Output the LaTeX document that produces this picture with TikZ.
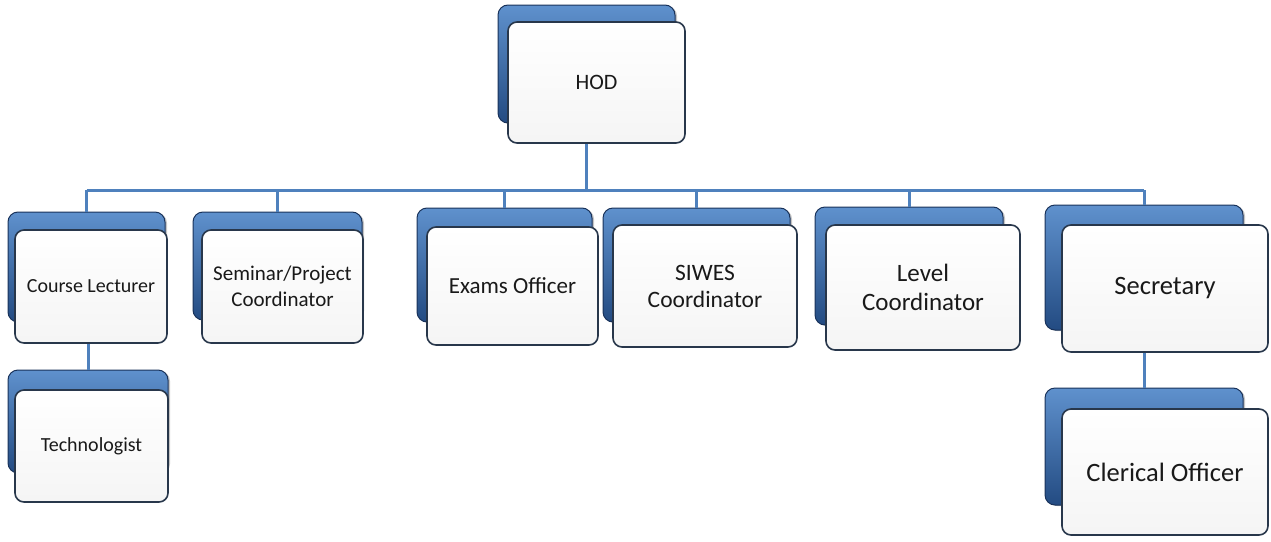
\documentclass[tikz,border=0pt]{standalone}
\usepackage{fontspec}
\setmainfont{Carlito}
\usetikzlibrary{shadows}
\definecolor{bluetop}{RGB}{95,145,205}
\definecolor{bluebot}{RGB}{35,75,130}
\definecolor{bluedark}{RGB}{25,50,90}
\definecolor{linec}{RGB}{79,129,189}
\definecolor{framec}{RGB}{40,55,75}
\tikzset{
  backbox/.style={rectangle, rounded corners=10pt, top color=bluetop, bottom color=bluebot,
    draw=bluedark, line width=1pt, inner sep=0pt,
    drop shadow={shadow xshift=2pt, shadow yshift=-1pt, fill=black!45}},
  frontbox/.style={rectangle, rounded corners=9pt, top color=white, bottom color=black!4,
    draw=framec, line width=1.6pt, inner sep=0pt, align=center, text=black!90},
  conn/.style={draw=linec, line width=3pt},
}
\begin{document}
\begin{tikzpicture}[x=1pt, y=-1pt]
\useasboundingbox (0,0) rectangle (1271,541);
\coordinate (bus) at (0,190);
% back boxes
\node[backbox, minimum width=177pt, minimum height=118pt] (hodb) at (586.5,64) {};
\node[backbox, minimum width=157pt, minimum height=110pt] (clb) at (86.5,267) {};
\node[backbox, minimum width=169pt, minimum height=108pt] (spb) at (277.5,266) {};
\node[backbox, minimum width=175pt, minimum height=114pt] (eob) at (504.5,265) {};
\node[backbox, minimum width=187pt, minimum height=114pt] (swb) at (696.5,265) {};
\node[backbox, minimum width=188pt, minimum height=118pt] (lcb) at (909,266) {};
\node[backbox, minimum width=198pt, minimum height=125pt] (secb) at (1144,267.5) {};
\node[backbox, minimum width=160pt, minimum height=103pt] (tecb) at (88,421.5) {};
\node[backbox, minimum width=198pt, minimum height=117pt] (clob) at (1144,446.5) {};
% front boxes
\node[frontbox, minimum width=177pt, minimum height=121pt, font=\fontsize{22}{26}\selectfont] (hod) at (596.5,82.5) {HOD};
\node[frontbox, minimum width=152pt, minimum height=113pt, font=\fontsize{20}{24}\selectfont] (cl) at (91,286.5) {Course Lecturer};
\node[frontbox, minimum width=161pt, minimum height=113pt, font=\fontsize{21}{26}\selectfont] (sp) at (282.5,286.5) {Seminar/Project\\Coordinator};
\node[frontbox, minimum width=171pt, minimum height=118pt, font=\fontsize{23}{27}\selectfont] (eo) at (512.5,286) {Exams Officer};
\node[frontbox, minimum width=184pt, minimum height=122pt, font=\fontsize{23.5}{27}\selectfont] (sw) at (705,286) {SIWES\\Coordinator};
\node[frontbox, minimum width=194pt, minimum height=125pt, font=\fontsize{25}{29}\selectfont] (lc) at (923,287.5) {Level\\Coordinator};
\node[frontbox, minimum width=206pt, minimum height=127pt, font=\fontsize{26.5}{30}\selectfont] (sec) at (1165,288.5) {Secretary};
\node[frontbox, minimum width=153pt, minimum height=112pt, font=\fontsize{20}{24}\selectfont] (tec) at (91.5,446) {Technologist};
\node[frontbox, minimum width=206pt, minimum height=126pt, font=\fontsize{26.5}{30}\selectfont] (clo) at (1165,472) {Clerical Officer};
% connectors
\draw[conn] (hodb |- hod.south) -- (hodb |- bus);
\draw[conn] (clb |- bus) -- (secb |- bus);
\draw[conn] (clb |- bus) -- (clb.north);
\draw[conn] (spb |- bus) -- (spb.north);
\draw[conn] (eob |- bus) -- (eob.north);
\draw[conn] (swb |- bus) -- (swb.north);
\draw[conn] (lcb |- bus) -- (lcb.north);
\draw[conn] (secb |- bus) -- (secb.north);
\draw[conn] (tecb |- cl.south) -- (tecb.north);
\draw[conn] (clob |- sec.south) -- (clob.north);
\end{tikzpicture}
\end{document}
